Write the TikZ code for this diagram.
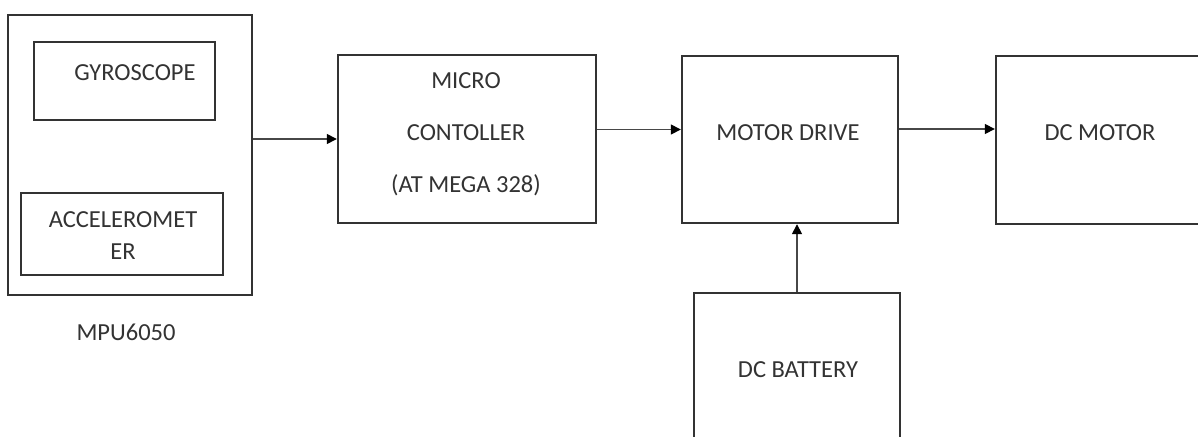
\documentclass[tikz,border=0pt]{standalone}
\usepackage{fontspec}
\setmainfont{Carlito}
\usetikzlibrary{arrows.meta}
\definecolor{linec}{HTML}{333333}
\definecolor{textc}{HTML}{333333}
\tikzset{
  blockbox/.style={draw=linec, line width=2.4pt, minimum width=#1, inner sep=0pt},
  lbl/.style={text=textc, font=\fontsize{24.5}{32}\selectfont, inner sep=0pt, align=center},
  arr/.style={draw=linec!90, line width=1.5pt, -{Triangle[length=10pt,width=10pt,color=black]}},
}
\begin{document}
\begin{tikzpicture}[x=1pt,y=-1pt]
\useasboundingbox[fill=white] (0,0) rectangle (1198,436);
% boxes
\node[blockbox=244pt, minimum height=280pt] (mpu) at (130,155) {};
\node[blockbox=181pt, minimum height=78pt] (gyro) at (124.5,81) {};
\node[blockbox=202pt, minimum height=82pt] (acc) at (122,234) {};
\node[blockbox=258pt, minimum height=168pt] (micro) at (467,139) {};
\node[blockbox=216pt, minimum height=167pt] (drive) at (790,139.5) {};
\node[blockbox=219pt, minimum height=168pt] (motor) at (1105.5,140) {};
\node[blockbox=206pt, minimum height=160pt] (batt) at (797,373) {};
% labels
\node[lbl] (tgyro) at (135,73) {GYROSCOPE};
\node[lbl] (tacc) at (123,236) {ACCELEROMET\\ER};
\node[lbl] (tmpu) at (126,332) {MPU6050};
\node[lbl, font=\fontsize{24.5}{52}\selectfont] (tmicro) at (466,134) {MICRO\\CONTOLLER\\(AT MEGA 328)};
\node[lbl] (tdrive) at (788,133) {MOTOR DRIVE};
\node[lbl] (tmotor) at (1100,133) {DC MOTOR};
\node[lbl] (tbatt) at (798,370) {DC BATTERY};
% connectors
\coordinate (c1) at ([yshift=9.5pt]micro.east);
\coordinate (c2) at ([yshift=10.5pt]drive.east);
\draw[arr] (mpu.east |- micro.west) -- (micro.west);
\draw[arr] (c1) -- (drive.west |- c1);
\draw[arr] (c2) -- (motor.west |- c2);
\draw[arr] (batt.north) -- (batt.north |- drive.south);
\end{tikzpicture}
\end{document}
